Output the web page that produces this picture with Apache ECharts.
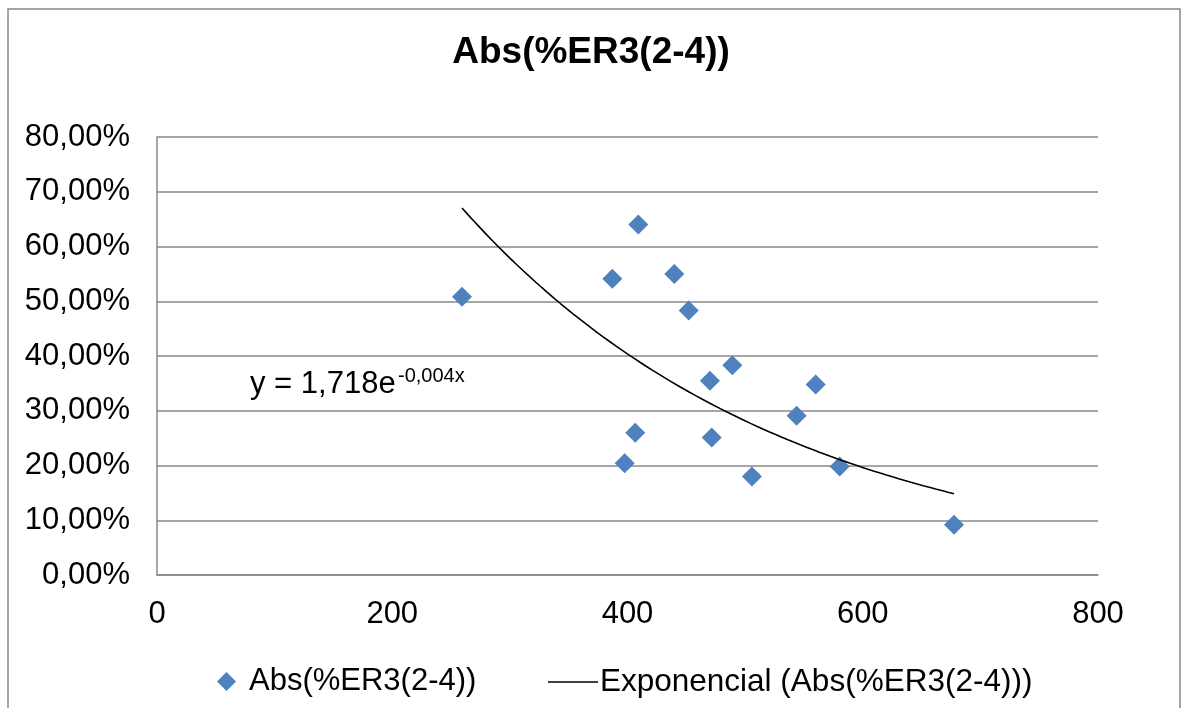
<!DOCTYPE html>
<html>
<head>
<meta charset="utf-8">
<script src="https://cdn.jsdelivr.net/npm/echarts@6/dist/echarts.min.js"></script>
<style>
  html, body { margin: 0; padding: 0; background: #fff; }
  #chart { width: 1182px; height: 708px; }
</style>
</head>
<body>
<div id="chart"></div>
<script>
// ---- data ----
const chartTitle = 'Abs(%ER3(2-4))';
const seriesName = 'Abs(%ER3(2-4))';
const trendName = 'Exponencial (Abs(%ER3(2-4)))';
const xValues = [259.3, 387.1, 409.2, 439.8, 452.0, 470.1, 489.1, 560.0, 543.8, 406.6, 471.6, 397.6, 505.8, 580.4, 677.6];
const yValues = [0.508, 0.541, 0.640, 0.550, 0.483, 0.355, 0.383, 0.348, 0.291, 0.260, 0.251, 0.204, 0.180, 0.198, 0.092];
const xTicks = [0, 200, 400, 600, 800];
const yTicks = [0, 0.1, 0.2, 0.3, 0.4, 0.5, 0.6, 0.7, 0.8];
const equationMain = 'y = 1,718e';
const equationExp = '-0,004x';

// ---- build scatter data ----
const scatterData = xValues.map((x, i) => [x, yValues[i]]);

// ---- exponential trendline: least squares fit of ln(y) on x (as the spreadsheet does) ----
function expFit(xs, ys) {
  const n = xs.length;
  const ls = ys.map(v => Math.log(v));
  const mx = xs.reduce((a, b) => a + b, 0) / n;
  const ml = ls.reduce((a, b) => a + b, 0) / n;
  let sxy = 0, sxx = 0;
  for (let i = 0; i < n; i++) { sxy += (xs[i] - mx) * (ls[i] - ml); sxx += (xs[i] - mx) * (xs[i] - mx); }
  const b = sxy / sxx;
  const a = Math.exp(ml - b * mx);
  return { a, b };
}
const fit = expFit(xValues, yValues);
const xMin = Math.min(...xValues), xMax = Math.max(...xValues);
const trendData = [];
const steps = 80;
for (let i = 0; i <= steps; i++) {
  const x = xMin + (xMax - xMin) * i / steps;
  trendData.push([x, fit.a * Math.exp(fit.b * x)]);
}

const FONT = 'Liberation Sans, Arial, sans-serif';
const chart = echarts.init(document.getElementById('chart'));
chart.setOption({
  animation: false,
  backgroundColor: '#ffffff',
  textStyle: { fontFamily: FONT },
  title: {
    text: chartTitle,
    left: 'center',
    top: 29,
    textStyle: { fontFamily: FONT, fontSize: 37, fontWeight: 'bold', color: '#000' }
  },
  grid: { left: 157, right: 84, top: 137, bottom: 133 },
  legend: [
    {
      data: [{ name: seriesName, icon: 'diamond' }],
      left: 212, top: 661,
      itemWidth: 19, itemHeight: 19,
      textStyle: { fontFamily: FONT, fontSize: 31, color: '#000', padding: [0, 0, 0, 8] },
      selectedMode: false
    },
    {
      data: [{ name: trendName, icon: 'path://M0,0L50,0L50,1.5L0,1.5Z' }],
      left: 543, top: 661,
      itemWidth: 50, itemHeight: 2,
      itemGap: 0,
      textStyle: { fontFamily: FONT, fontSize: 31.5, color: '#000', padding: [0, 0, 0, -3] },
      selectedMode: false
    }
  ],
  xAxis: {
    type: 'value',
    min: xTicks[0], max: xTicks[xTicks.length - 1], interval: xTicks[1] - xTicks[0],
    axisLine: { show: true, onZero: false, lineStyle: { color: '#888', width: 1.5 } },
    axisTick: { show: false },
    splitLine: { show: false },
    axisLabel: { fontFamily: FONT, fontSize: 31, color: '#000', margin: 24 }
  },
  yAxis: {
    type: 'value',
    min: yTicks[0], max: yTicks[yTicks.length - 1], interval: yTicks[1] - yTicks[0],
    axisLine: { show: true, lineStyle: { color: '#888', width: 1.5 } },
    axisTick: { show: false },
    splitLine: { show: true, lineStyle: { color: '#888', width: 1.5 } },
    axisLabel: {
      fontFamily: FONT, fontSize: 31, color: '#000', margin: 27,
      formatter: v => (v * 100).toFixed(2).replace('.', ',') + '%'
    }
  },
  series: [
    {
      name: seriesName,
      type: 'scatter',
      symbol: 'diamond',
      symbolSize: 20,
      itemStyle: { color: '#4F81BD', opacity: 1 },
      data: scatterData,
      z: 3
    },
    {
      name: trendName,
      type: 'line',
      showSymbol: false,
      symbol: 'none',
      lineStyle: { color: '#000', width: 1.6 },
      itemStyle: { color: '#000' },
      data: trendData,
      z: 4
    }
  ],
  graphic: [
    {
      type: 'rect',
      shape: { x: 8, y: 9, width: 1172, height: 720 },
      style: { fill: 'none', stroke: '#888', lineWidth: 1.5 },
      silent: true, z: -1
    },
    {
      type: 'text',
      left: 250, top: 369,
      style: { text: equationMain, fontFamily: FONT, fontSize: 31, fill: '#000' }
    },
    {
      type: 'text',
      left: 398, top: 366,
      style: { text: equationExp, fontFamily: FONT, fontSize: 20, fill: '#000' }
    }
  ]
});
</script>
</body>
</html>
